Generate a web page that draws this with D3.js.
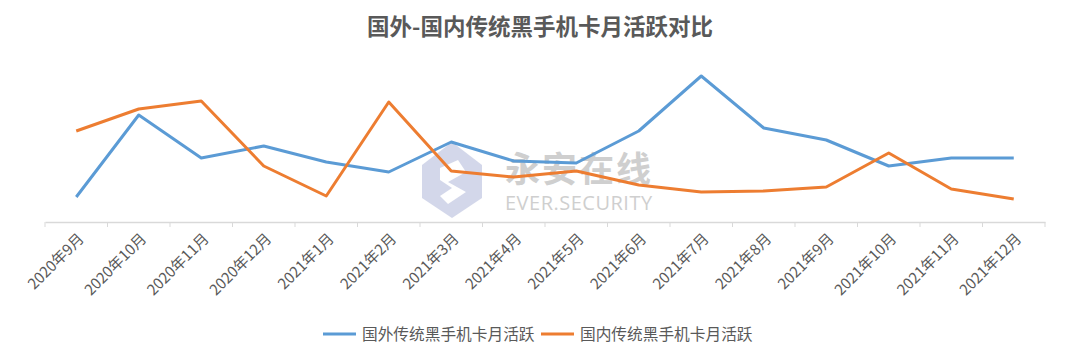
<html>
<head>
<meta charset="utf-8">
<script src="https://cdnjs.cloudflare.com/ajax/libs/d3/7.8.5/d3.min.js"></script>
<style>
    body { margin: 0; background: #fff; }
    svg { display: block; font-family: "Noto Sans CJK SC", "Noto Sans", sans-serif; }
</style>
</head>
<body>
<script>
const months = [
    '2020年9月', '2020年10月', '2020年11月', '2020年12月',
    '2021年1月', '2021年2月', '2021年3月', '2021年4月',
    '2021年5月', '2021年6月', '2021年7月', '2021年8月',
    '2021年9月', '2021年10月', '2021年11月', '2021年12月'
];
const seriesNames = ['国外传统黑手机卡月活跃', '国内传统黑手机卡月活跃'];
const foreignActive = [25, 107, 64, 76, 60, 50, 80, 61, 59, 91, 146, 94, 82, 56, 64, 64];
const domesticActive = [91, 113, 121, 56, 26, 120, 51, 45, 51, 37, 30, 31, 35, 69, 33, 23];
const colors = ['#5b9bd5', '#ed7d31'];

const width = 1080, height = 359;
const plot = { left: 45, right: 1045, top: 62, bottom: 222 };

const svg = d3.select('body').append('svg')
    .attr('width', width)
    .attr('height', height);

// title
svg.append('text')
    .attr('x', 540)
    .attr('y', 35)
    .attr('text-anchor', 'middle')
    .attr('font-size', 22.5)
    .attr('font-weight', 'bold')
    .attr('fill', '#595959')
    .text('国外-国内传统黑手机卡月活跃对比');

const x = d3.scaleBand().domain(months).range([plot.left, plot.right]);
const y = d3.scaleLinear().domain([0, 160]).range([plot.bottom, plot.top]);

// watermark
const wm = svg.append('g').attr('opacity', 0.6);
wm.append('path')
    .attr('d', 'M452,142 L482,165 L482,198 L452,218 L422,198 L422,165 Z')
    .attr('fill', '#b7bedd');
wm.append('path')
    .attr('d', 'M440,168 L458,160 L466,172 L448,182 L466,192 L448,204 L440,196 L452,188 L440,180 Z')
    .attr('fill', '#fff');
wm.append('text')
    .attr('x', 505).attr('y', 182)
    .attr('font-size', 35)
    .attr('font-weight', 'bold')
    .attr('fill', '#b0b0b0')
    .attr('letter-spacing', 2)
    .text('永安在线');
wm.append('text')
    .attr('x', 505).attr('y', 210)
    .attr('font-size', 20)
    .attr('fill', '#b0b0b0')
    .attr('font-family', '"Open Sans", sans-serif')
    .attr('letter-spacing', 0.5)
    .text('EVER.SECURITY');

// x axis
const axis = svg.append('g')
    .attr('transform', `translate(0, ${plot.bottom})`)
    .call(d3.axisBottom(x).tickSize(0).tickFormat(''));
axis.select('.domain').attr('stroke', '#d9d9d9').attr('stroke-width', 1.5);

svg.append('g').selectAll('line')
    .data(months.concat(['end']))
    .join('line')
    .attr('x1', (d, i) => plot.left + i * x.step())
    .attr('x2', (d, i) => plot.left + i * x.step())
    .attr('y1', plot.bottom)
    .attr('y2', plot.bottom + 5)
    .attr('stroke', '#d9d9d9');

svg.append('g').selectAll('text')
    .data(months)
    .join('text')
    .attr('transform', d => `translate(${x(d) + x.bandwidth() / 2 + 5}, ${plot.bottom + 14}) rotate(-45)`)
    .attr('text-anchor', 'end')
    .attr('dy', '0.35em')
    .attr('font-size', 15)
    .attr('fill', '#595959')
    .text(d => d);

// lines
const line = d3.line()
    .x((d, i) => x(months[i]) + x.bandwidth() / 2)
    .y(d => y(d));

[foreignActive, domesticActive].forEach((data, k) => {
    svg.append('path')
        .datum(data)
        .attr('fill', 'none')
        .attr('stroke', colors[k])
        .attr('stroke-width', 3)
        .attr('stroke-linejoin', 'round')
        .attr('d', line);
});

// legend
const legend = svg.append('g').attr('transform', 'translate(0, 334)');
const legendX = [323, 541];
seriesNames.forEach((name, k) => {
    legend.append('line')
        .attr('x1', legendX[k]).attr('x2', legendX[k] + 33)
        .attr('stroke', colors[k])
        .attr('stroke-width', 3);
    legend.append('text')
        .attr('x', legendX[k] + 39)
        .attr('dy', '0.35em')
        .attr('font-size', 15.7)
        .attr('fill', '#595959')
        .text(name);
});
</script>
</body>
</html>
